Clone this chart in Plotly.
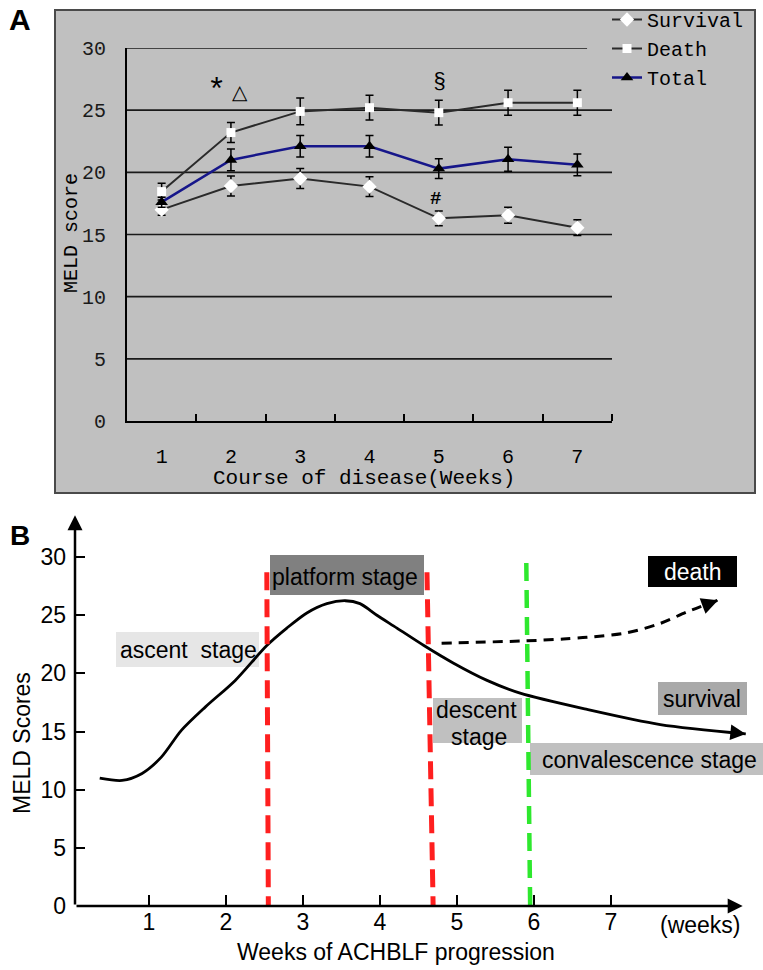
import plotly.graph_objects as go

W, H = 763, 970

# ---------------- Panel A data ----------------
weeks_a = [1, 2, 3, 4, 5, 6, 7]
week_labels_a = ["1", "2", "3", "4", "5", "6", "7"]
survival = [17.0, 18.9, 19.5, 18.85, 16.3, 16.55, 15.55]
survival_err = [0.45, 0.8, 0.8, 0.8, 0.6, 0.64, 0.64]
death = [18.45, 23.2, 24.9, 25.2, 24.8, 25.6, 25.6]
death_err = [0.67, 0.8, 1.07, 1.0, 1.0, 1.0, 1.0]
total = [17.6, 21.0, 22.1, 22.1, 20.3, 21.05, 20.6]
total_err = [0.4, 0.87, 0.87, 0.86, 0.8, 0.97, 0.88]
yticks_a = [0, 5, 10, 15, 20, 25, 30]
xminor_a = [1.5, 2.5, 3.5, 4.5, 5.5, 6.5, 7.5]

# ---------------- Panel B data ----------------
curve_x = [0.36, 0.65, 0.91, 1.16, 1.42, 1.73, 2.12, 2.53, 2.79, 3.05, 3.31, 3.55,
           3.74, 3.96, 4.22, 4.57, 4.95, 5.39, 5.82, 6.69, 7.64, 8.75]
curve_y = [11.0, 10.8, 11.4, 12.8, 15.1, 17.1, 19.4, 22.4, 23.9, 25.2, 26.0, 26.25,
           26.0, 25.0, 23.9, 22.4, 20.9, 19.4, 18.3, 16.9, 15.6, 14.8]
death_x = [4.8, 5.9, 6.38, 6.69, 7.21, 7.64, 7.99, 8.39]
death_y = [22.6, 22.8, 22.96, 23.1, 23.5, 24.3, 25.3, 26.3]
stage_top_x = [2.53, 4.61, 5.9]
stage_bot_x = [2.55, 4.69, 5.95]
stage_top_y = [28.7, 28.7, 29.5]
stage_colors = ["#ff1f1f", "#ff1f1f", "#2ee82e"]
yticks_b = [0, 5, 10, 15, 20, 25, 30]
xticks_b = [1, 2, 3, 4, 5, 6, 7]

MONO = "Liberation Mono, DejaVu Sans Mono, monospace"
SANS = "Liberation Sans, Arial, sans-serif"


def px(x):
    return x / W


def py(y):
    return 1 - y / H


fig = go.Figure()

# ---- Panel A traces ----
fig.add_trace(go.Scatter(
    x=weeks_a, y=survival, name="Survival", mode="lines+markers",
    line=dict(color="#2a2a2a", width=2),
    marker=dict(symbol="diamond", size=11, color="white", line=dict(width=0)),
    error_y=dict(type="data", array=survival_err, color="black", thickness=1.5, width=4),
    xaxis="x", yaxis="y"))
fig.add_trace(go.Scatter(
    x=weeks_a, y=death, name="Death", mode="lines+markers",
    line=dict(color="#2a2a2a", width=2),
    marker=dict(symbol="square", size=9, color="white", line=dict(width=0)),
    error_y=dict(type="data", array=death_err, color="black", thickness=1.5, width=4),
    xaxis="x", yaxis="y"))
fig.add_trace(go.Scatter(
    x=weeks_a, y=total, name="Total", mode="lines+markers",
    line=dict(color="#16168a", width=2.5),
    marker=dict(symbol="triangle-up", size=11, color="black", line=dict(width=0)),
    error_y=dict(type="data", array=total_err, color="black", thickness=1.5, width=4),
    xaxis="x", yaxis="y"))

# ---- Panel B traces ----
fig.add_trace(go.Scatter(
    x=curve_x, y=curve_y, mode="lines", showlegend=False,
    line=dict(color="black", width=2.8, shape="spline", smoothing=0.8),
    xaxis="x2", yaxis="y2", cliponaxis=False, hoverinfo="skip"))
fig.add_trace(go.Scatter(
    x=death_x, y=death_y, mode="lines", showlegend=False,
    line=dict(color="black", width=3, shape="spline", smoothing=0.8, dash="10px,7px"),
    xaxis="x2", yaxis="y2", cliponaxis=False, hoverinfo="skip"))
for tx, bx, ty, c in zip(stage_top_x, stage_bot_x, stage_top_y, stage_colors):
    fig.add_trace(go.Scatter(
        x=[tx, bx], y=[ty, 0], mode="lines", showlegend=False,
        line=dict(color=c, width=5 if c != "#2ee82e" else 4.5, dash="18px,9px"),
        xaxis="x2", yaxis="y2", cliponaxis=False, hoverinfo="skip"))

shapes = []
# Panel A grey box
shapes.append(dict(type="rect", xref="paper", yref="paper",
                   x0=px(55), x1=px(755), y0=py(493), y1=py(10),
                   fillcolor="#c0c0c0", line=dict(color="#4a4a4a", width=2), layer="below"))
# Panel A horizontal gridlines
for v in yticks_a[1:]:
    shapes.append(dict(type="line", xref="x", yref="y", x0=0.5,
                       x1=7.14 if v == yticks_a[-1] else 7.5, y0=v, y1=v,
                       line=dict(color="#1a1a1a", width=1.6), layer="below"))

# Panel B label boxes (pixel rectangles)
boxes = [
    (116, 259, 632, 667, "#e6e6e6"),   # ascent
    (270, 424, 555, 595, "#808080"),   # platform
    (648, 737, 556, 587, "#000000"),   # death
    (658, 747, 682, 715, "#a9a9a9"),   # survival
    (433, 522, 698, 743, "#c0c0c0"),   # descent
    (530, 763, 743, 775, "#c0c0c0"),   # convalescence
]
for x0, x1, y0, y1, c in boxes:
    shapes.append(dict(type="rect", xref="paper", yref="paper",
                       x0=px(x0), x1=px(x1), y0=py(y1), y1=py(y0),
                       fillcolor=c, line=dict(width=0), layer="below"))

ann = []


def txt(x, y, s, size=20, family=MONO, color="black", angle=0, **kw):
    ann.append(dict(x=px(x), y=py(y), xref="paper", yref="paper", text=s,
                    showarrow=False, textangle=angle, xanchor="center", yanchor="middle",
                    font=dict(family=family, size=size, color=color), **kw))


# Panel A texts
txt(20, 19, "<b>A</b>", size=30, family=SANS)
txt(71, 233, "MELD score", size=20, angle=-90)
txt(364, 478, "Course of disease(Weeks)", size=21)
txt(216, 91, "*", size=32)
txt(240, 92, "△", size=20, family="DejaVu Sans")
txt(440, 82, "§", size=22)
txt(435, 199, "<b>#</b>", size=19)

# Panel B texts
txt(20, 535, "<b>B</b>", size=28, family=SANS)
txt(22, 743, "MELD Scores", size=23, family=SANS, angle=-90)
txt(396, 952, "Weeks of ACHBLF progression", size=23, family=SANS)
txt(700, 925, "(weeks)", size=23, family=SANS)
txt(188, 650, "ascent  stage", size=23, family=SANS)
txt(345, 577, "platform stage", size=23, family=SANS)
txt(693, 572, "death", size=23, family=SANS, color="white")
txt(702, 699, "survival", size=23, family=SANS)
txt(477, 710, "descent", size=23, family=SANS)
txt(479, 737, "stage", size=23, family=SANS)
txt(649, 760, "convalescence stage", size=23, family=SANS)

# Panel B arrows (axes and curve ends)
x_axis_left = 0.039


def arrow(x, y, ax, ay, width=2.5, size=1.2):
    ann.append(dict(x=x, y=y, ax=ax, ay=ay, xref="x2", yref="y2", axref="x2", ayref="y2",
                    text="", showarrow=True, arrowhead=2, arrowsize=size,
                    arrowwidth=width, arrowcolor="black", standoff=0))


arrow(x_axis_left, 33.6, x_axis_left, 0)
arrow(8.71, 0, x_axis_left, 0)
f = 0.12
arrow(curve_x[-1], curve_y[-1],
      curve_x[-1] - f * (curve_x[-1] - curve_x[-2]),
      curve_y[-1] - f * (curve_y[-1] - curve_y[-2]), width=2.8, size=1.1)
arrow(death_x[-1], death_y[-1],
      death_x[-1] - 0.4 * (death_x[-1] - death_x[-2]),
      death_y[-1] - 0.4 * (death_y[-1] - death_y[-2]), width=3, size=1.1)

fig.update_layout(
    width=W, height=H, margin=dict(l=0, r=0, t=0, b=0, autoexpand=False),
    paper_bgcolor="white", plot_bgcolor="rgba(0,0,0,0)",
    shapes=shapes, annotations=ann,
    showlegend=True,
    legend=dict(x=px(607), y=1.0, xanchor="left", yanchor="top",
                bgcolor="rgba(0,0,0,0)",
                font=dict(family=MONO, size=20, color="black"),
                tracegroupgap=0),
    xaxis=dict(domain=[px(127), px(612)], range=[0.5, 7.5], anchor="y",
               tickmode="array", tickvals=weeks_a, ticktext=week_labels_a, ticks="",
               showline=True, linecolor="black", linewidth=2, showgrid=False, zeroline=False,
               tickfont=dict(family=MONO, size=20, color="black"), ticklabelstandoff=16,
               minor=dict(tickmode="array", tickvals=xminor_a, ticks="inside",
                          ticklen=7, tickwidth=1.5, tickcolor="black")),
    yaxis=dict(domain=[py(421), py(48)], range=[0, 30], anchor="x",
               tickmode="array", tickvals=yticks_a, ticks="",
               showline=True, linecolor="black", linewidth=2, showgrid=False, zeroline=False,
               tickfont=dict(family=MONO, size=20, color="#1a1a1a"), ticklabelstandoff=15),
    xaxis2=dict(domain=[px(75), 1.0], range=[x_axis_left, 8.974], anchor="y2",
                tickmode="array", tickvals=xticks_b, ticks="inside", ticklen=11,
                tickwidth=2, tickcolor="black", showline=False, showgrid=False,
                zeroline=False, tickfont=dict(family=SANS, size=23, color="black")),
    yaxis2=dict(domain=[py(906), py(510.6)], range=[0, 34], anchor="x2",
                tickmode="array", tickvals=yticks_b, ticks="inside", ticklen=10,
                tickwidth=2, tickcolor="black", showline=False, showgrid=False,
                zeroline=False, tickfont=dict(family=SANS, size=23, color="black"),
                ticklabelstandoff=8),
)

fig.write_html("out.html", config={"displayModeBar": False},
               post_script="document.body.style.margin='0px';")
